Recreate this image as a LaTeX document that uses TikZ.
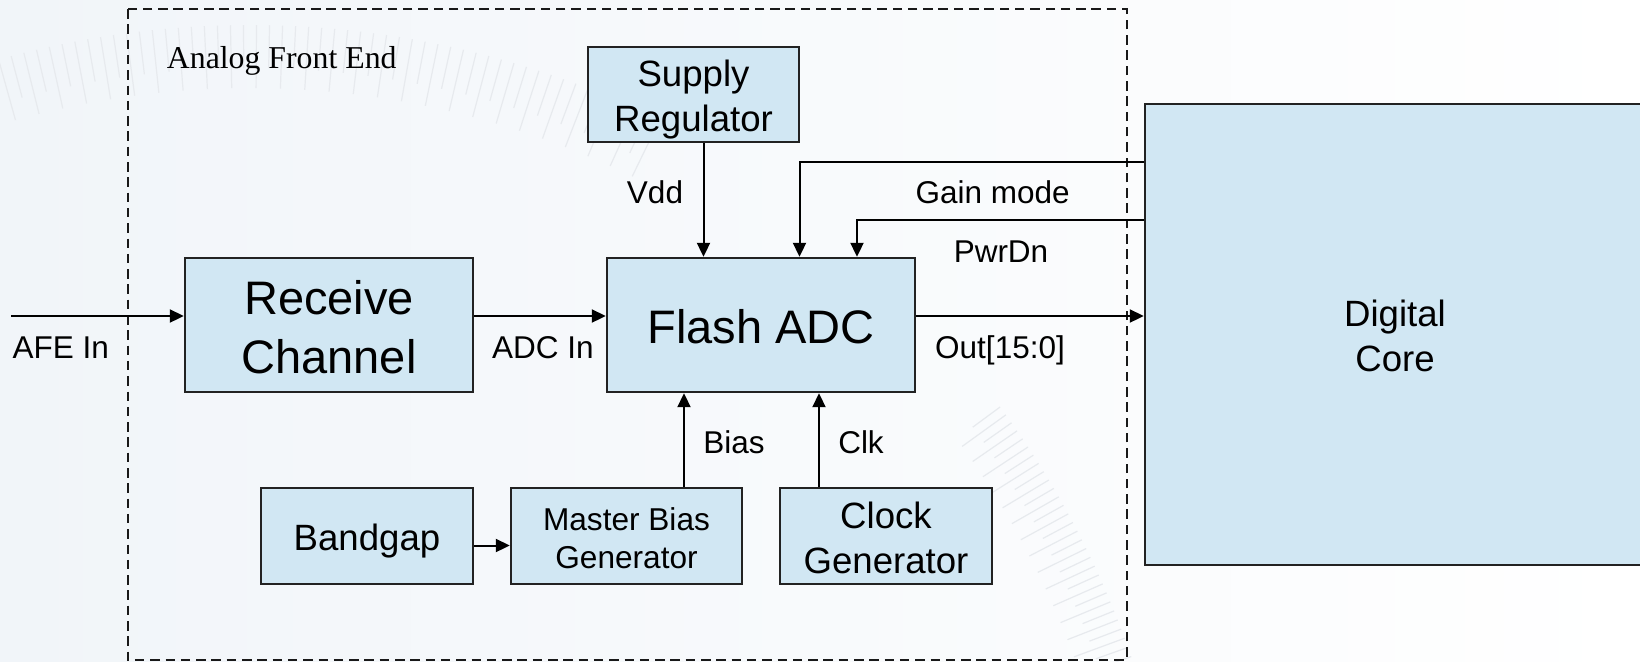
\documentclass[tikz,border=0pt]{standalone}
\usepackage{fontspec}
\setmainfont{Liberation Sans}
\newfontfamily\serifface{Liberation Serif}
\usetikzlibrary{arrows.meta}

\definecolor{boxfill}{RGB}{209,231,243}
\definecolor{boxline}{RGB}{34,34,34}
\definecolor{tickgray}{RGB}{231,234,238}
\definecolor{bgtint}{RGB}{241,245,249}

\tikzset{
  block/.style={draw=boxline, line width=1.2pt, fill=boxfill, inner sep=0pt},
  bigtext/.style={font=\fontsize{23.5pt}{29.3pt}\selectfont, align=center},
  midtext/.style={font=\fontsize{18.3pt}{22.5pt}\selectfont, align=center},
  smalltext/.style={font=\fontsize{15.8pt}{19pt}\selectfont, align=center},
  % block caption, centred in the block and dropped by #1
  caption/.style n args={3}{label={[#2, yshift=-#1, inner sep=0pt]center:{#3}}},
  sig/.style={font=\fontsize{15.75pt}{19pt}\selectfont, anchor=base, inner sep=0pt},
  link/.style={line width=1pt, -{Triangle[length=7pt,width=6.5pt]}},
  frame/.style={line width=1pt, draw=black!90, dash pattern=on 4.75pt off 2.9pt},
}

\begin{document}
\begin{tikzpicture}[x=0.5pt,y=-0.5pt]
\clip (0,0) rectangle (1640,661);
% paper tint
\shade[left color=bgtint, right color=white] (0,0) rectangle (1640,661);

% faint dial ticks in the background
\begin{scope}[shift={(250,960)}, draw=tickgray, line width=0.6pt]
  \foreach \a [count=\k] in {19.0,19.6,...,37.0}{
    \pgfmathsetmacro\rin{ifthenelse(mod(\k,2)==0,898,878)}
    \draw (-\a:\rin) -- (-\a:932);
  }
  \foreach \a [count=\k] in {64.0,64.8,...,112.0}{
    \pgfmathsetmacro\rin{ifthenelse(mod(\k,2)==0,892,872)}
    \draw (-\a:\rin) -- (-\a:935);
  }
\end{scope}

% analog front end boundary
\draw[frame] (127.5,9) rectangle (1126.5,659.5);
\node[anchor=base west, inner sep=0pt, font=\serifface\fontsize{15.9pt}{19pt}\selectfont]
  (afetitle) at (166.5,68) {Analog Front End};

% blocks
\node[block, minimum width=105.5pt, minimum height=47.5pt,
      caption={2.35pt}{midtext}{Supply\\Regulator}] (sup) at (693.5,94.5) {};
\node[block, minimum width=144pt, minimum height=67pt,
      caption={1pt}{bigtext}{Receive\\Channel}] (rc) at (329,325) {};
\node[block, minimum width=154pt, minimum height=67pt,
      caption={1pt}{bigtext}{Flash ADC}] (adc) at (761,325) {};
\node[block, minimum width=250pt, minimum height=230.5pt,
      caption={0.5pt}{midtext}{Digital\\Core}] (dc) at (1395,334.5) {};
\node[block, minimum width=106pt, minimum height=48pt,
      caption={2.6pt}{midtext}{Bandgap}] (bg) at (367,536) {};
\node[block, minimum width=115.5pt, minimum height=48pt,
      caption={1.3pt}{smalltext}{Master Bias\\Generator}] (mb) at (626.5,536) {};
\node[block, minimum width=106pt, minimum height=48pt,
      caption={1pt}{midtext}{Clock\\Generator}] (cg) at (886,536) {};

% reference points for the signal routes
\coordinate (afe) at (11,316);
\coordinate (gm) at (799.5,162);
\coordinate (pd) at (857,220);
\coordinate (vx) at (703.5,0);
\coordinate (bx) at (684,0);
\coordinate (cx) at (819,0);
\coordinate (by) at (0,545.5);

% signal path
\draw[link] (afe) -- (afe -| rc.west);
\draw[link] (rc.east |- afe) -- (adc.west |- afe);
\draw[link] (adc.east |- afe) -- (dc.west |- afe);

% supply and control
\draw[link] (sup.south -| vx) -- (adc.north -| vx);
\draw[link] (gm -| dc.west) -- (gm) -- (gm |- adc.north);
\draw[link] (pd -| dc.west) -- (pd) -- (pd |- adc.north);

% bias and clock
\draw[link] (mb.north -| bx) -- (adc.south -| bx);
\draw[link] (cg.north -| cx) -- (adc.south -| cx);
\draw[link] (bg.east |- by) -- (mb.west |- by);

% signal labels
\node[sig] (lafe) at (60.7,358) {AFE In};
\node[sig] (ladc) at (543,358) {ADC In};
\node[sig] (lout) at (1000,358) {Out[15:0]};
\node[sig] (lvdd) at (655,203) {Vdd};
\node[sig] (lgain) at (992.6,203) {Gain mode};
\node[sig] (lpwr) at (1001,262) {PwrDn};
\node[sig] (lbias) at (734,453) {Bias};
\node[sig] (lclk) at (861,453) {Clk};
\end{tikzpicture}
\end{document}
